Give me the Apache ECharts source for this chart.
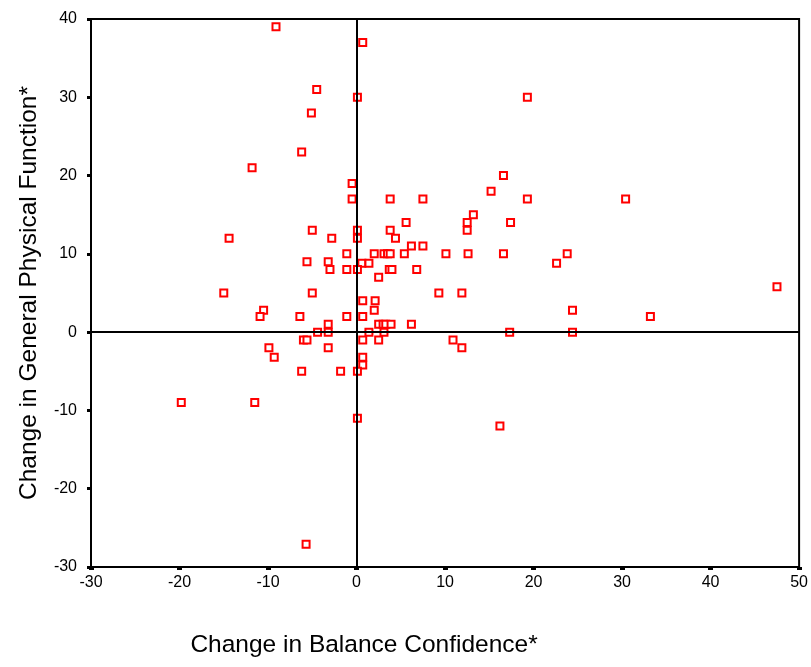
<!DOCTYPE html>
<html>
<head>
<meta charset="utf-8">
<script src="https://cdn.jsdelivr.net/npm/echarts@6/dist/echarts.min.js"></script>
<style>html,body{margin:0;padding:0;background:#fff}#c{width:811px;height:667px}</style>
</head>
<body>
<div id="c"></div>
<script>
// Change in Balance Confidence (x) vs Change in General Physical Function (y)
const balanceChange = [
  -9.1,-4.5,-5.1,-6.2,-11.8,-0.5,-0.5,0.7,0.1,19.3,16.6,15.2,30.4,47.5,33.2,3.8,7.5,19.3,13.2,12.5,
  12.5,17.4,5.6,0.1,0.1,3.8,4.4,6.2,7.5,-1.1,2.0,3.1,3.5,3.8,5.4,10.1,12.6,16.6,0.6,1.4,
  -1.1,0.1,3.7,4.0,6.8,2.5,9.3,11.9,0.7,2.1,2.0,-1.1,0.7,2.5,3.0,3.3,3.9,6.2,1.4,3.1,
  17.3,0.7,2.5,10.9,11.9,0.7,0.7,0.1,-1.8,0.1,16.2,22.6,23.8,24.4,24.4,-5.0,-14.4,-2.8,-5.6,-3.2,
  -3.0,-15.0,-5.0,-10.5,-10.9,-6.4,-3.2,-4.4,-3.2,-6.0,-5.6,-3.2,-9.9,-9.3,-6.2,-19.8,-11.5,-5.7
];
const physicalChange = [
  39,31,28,23,21,19,17,37,30,30,20,18,17,5.8,2,17,17,17,15,14,
  13,14,14,13,12,13,12,11,11,10,10,10,10,10,10,10,10,10,8.8,8.8,
  8,8,8,8,8,7,5,5,4,4,2.8,2,2,1,1,1,1,1,0,0,
  0,-1,-1,-1,-2,-3.2,-4.2,-5,-5,-11,-12,8.8,10,2.8,0,13,12,12,9,9,
  8,5,5,2.8,2,2,1,0,0,-1,-1,-2,-2,-3.2,-5,-9,-9,-27.1
];
const xTicks = {min:-30, max:50, interval:10};
const yTicks = {min:-30, max:40, interval:10};
const xTitle = 'Change in Balance Confidence*';
const yTitle = 'Change in General Physical Function*';

const points = balanceChange.map((x,i)=>[x, physicalChange[i]]);
const FONT = '"Liberation Sans",Arial,sans-serif';

const chart = echarts.init(document.getElementById('c'), null, {renderer:'canvas'});
chart.setOption({
  animation:false,
  backgroundColor:'#fff',
  grid:{left:91, right:11, top:19, bottom:100, show:true, borderColor:'#000', borderWidth:2, backgroundColor:'transparent'},
  xAxis:{
    type:'value', min:xTicks.min, max:xTicks.max, interval:xTicks.interval,
    name:xTitle, nameLocation:'middle', nameGap:66,
    nameTextStyle:{fontFamily:FONT, fontSize:24.5, color:'#000', padding:[0,162,0,0]},
    axisLine:{show:true, onZero:false, lineStyle:{color:'#000', width:2}},
    axisTick:{show:true, length:3, lineStyle:{color:'#000', width:5}},
    axisLabel:{fontFamily:FONT, fontSize:16, color:'#000', margin:8},
    splitLine:{show:false}
  },
  yAxis:{
    type:'value', min:yTicks.min, max:yTicks.max, interval:yTicks.interval,
    name:yTitle, nameLocation:'middle', nameGap:49,
    nameTextStyle:{fontFamily:FONT, fontSize:24.5, color:'#000'},
    axisLine:{show:true, onZero:false, lineStyle:{color:'#000', width:2}},
    axisTick:{show:true, length:4, lineStyle:{color:'#000', width:3}},
    axisLabel:{fontFamily:FONT, fontSize:16, color:'#000', margin:14},
    splitLine:{show:false}
  },
  series:[{
    type:'scatter',
    data:points,
    symbol:'rect',
    symbolSize:7,
    itemStyle:{color:'#fff', borderColor:'#ff0000', borderWidth:2, opacity:1},
    markLine:{
      silent:true, symbol:'none', animation:false,
      label:{show:false},
      lineStyle:{color:'#000', width:2, type:'solid'},
      data:[{xAxis:0},{yAxis:0}]
    },
    z:3
  }]
});
</script>
</body>
</html>
